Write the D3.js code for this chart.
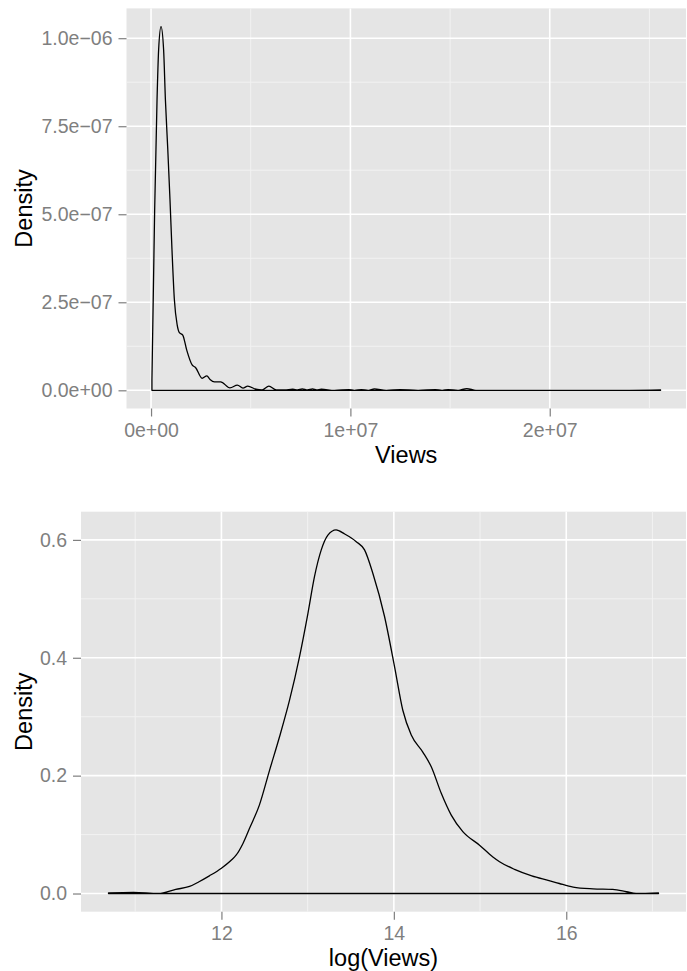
<!DOCTYPE html>
<html>
<head>
<meta charset="utf-8">
<script src="https://cdn.jsdelivr.net/npm/d3@7.9.0/dist/d3.min.js"></script>
<style>
  body { margin: 0; background: #fff; }
  svg { display: block; font-family: "Liberation Sans", Arial, Helvetica, sans-serif; }
</style>
</head>
<body>
<svg id="chart" width="687" height="971"></svg>
<script>
// top panel: density of raw views (views in millions, density in 1e-7)
const viewsM = [0.044, 0.18, 0.30, 0.38, 0.50, 0.63, 0.72, 0.84, 0.95, 1.05,
  1.17, 1.31, 1.42, 1.59, 1.79, 2.06, 2.23, 2.56, 2.80, 2.96,
  3.18, 3.49, 3.96, 4.33, 4.61, 4.85, 5.26, 5.57, 5.91, 6.28,
  6.7, 7.11, 7.35, 7.58, 7.85, 8.1, 8.3, 8.54, 9.2, 9.93,
  10.2, 10.55, 10.9, 11.2, 11.8, 12.5, 13.4, 14.26, 14.6, 14.9,
  15.4, 15.84, 16.3, 18, 20, 22, 24, 25.56];
const viewsDensE7 = [0.3, 5.1, 8.25, 9.67, 10.33, 9.67, 8.25, 6.83, 5.41, 3.99,
  2.57, 1.86, 1.64, 1.57, 1.14, 0.72, 0.65, 0.34, 0.41, 0.31,
  0.24, 0.24, 0.07, 0.15, 0.06, 0.12, 0.03, 0.01, 0.12, 0.01,
  0.01, 0.03, 0.01, 0.04, 0.01, 0.04, 0.01, 0.03, 0.0, 0.02,
  0.0, 0.02, 0.0, 0.04, 0.0, 0.02, 0.0, 0.02, 0.0, 0.02,
  0.0, 0.05, 0.0, 0.0, 0.0, 0.0, 0.0, 0.01];
const viewsTicks = [0, 1e7, 2e7];
const viewsTickLabels = ["0e+00", "1e+07", "2e+07"];
const viewsMinor = [5e6, 1.5e7, 2.5e7];
const densTicks = [0, 2.5e-7, 5e-7, 7.5e-7, 1e-6];
const densTickLabels = ["0.0e+00", "2.5e\u221207", "5.0e\u221207", "7.5e\u221207", "1.0e\u221206"];
const densMinor = [1.25e-7, 3.75e-7, 6.25e-7, 8.75e-7];

// bottom panel: density of log(views)
const logViews = [10.69, 10.98, 11.27, 11.47, 11.63, 11.74, 11.86, 12.0, 12.11, 12.17,
  12.25, 12.33, 12.44, 12.558, 12.674, 12.79, 12.906, 13.003, 13.08, 13.158,
  13.235, 13.33, 13.43, 13.564, 13.66, 13.757, 13.892, 14.008, 14.104, 14.202,
  14.336, 14.434, 14.55, 14.666, 14.80, 14.994, 15.149, 15.226, 15.4, 15.6,
  15.8, 15.92, 16.08, 16.31, 16.54, 16.70, 16.81, 17.07];
const logDens = [0.001, 0.002, 0.0, 0.007, 0.012, 0.020, 0.030, 0.043, 0.056, 0.065,
  0.085, 0.112, 0.150, 0.209, 0.266, 0.328, 0.402, 0.475, 0.538, 0.583,
  0.608, 0.617, 0.610, 0.597, 0.583, 0.543, 0.470, 0.385, 0.311, 0.269,
  0.240, 0.215, 0.170, 0.133, 0.105, 0.082, 0.062, 0.054, 0.041, 0.030,
  0.022, 0.017, 0.011, 0.008, 0.007, 0.003, 0.0, 0.001];
const logTicks = [12, 14, 16];
const logMinor = [11, 13, 15, 17];
const logDensTicks = [0, 0.2, 0.4, 0.6];
const logDensMinor = [0.1, 0.3, 0.5];

const svg = d3.select("#chart");

// ggplot-like 5% expansion
function expand(ext) {
  const pad = (ext[1] - ext[0]) * 0.05;
  return [ext[0] - pad, ext[1] + pad];
}

function drawPanel(opt) {
  const pts = opt.xs.map((x, i) => ({ x: x, y: opt.ys[i] }));
  const x = d3.scaleLinear()
    .domain(expand(d3.extent(pts, d => d.x)))
    .range([opt.left, opt.right]);
  const y = d3.scaleLinear()
    .domain(expand([0, d3.max(pts, d => d.y)]))
    .range([opt.bottom, opt.top]);

  const g = svg.append("g");

  g.append("rect")
    .attr("x", opt.left).attr("y", opt.top)
    .attr("width", opt.right - opt.left).attr("height", opt.bottom - opt.top)
    .attr("fill", "#e5e5e5");

  // minor grid
  g.selectAll(".minx").data(opt.xMinor.filter(v => x(v) >= opt.left && x(v) <= opt.right))
    .enter().append("line")
    .attr("x1", d => x(d)).attr("x2", d => x(d))
    .attr("y1", opt.top).attr("y2", opt.bottom)
    .attr("stroke", "#f2f2f2").attr("stroke-width", 1);
  g.selectAll(".miny").data(opt.yMinor)
    .enter().append("line")
    .attr("y1", d => y(d)).attr("y2", d => y(d))
    .attr("x1", opt.left).attr("x2", opt.right)
    .attr("stroke", "#f2f2f2").attr("stroke-width", 1);

  // major grid
  g.selectAll(".majx").data(opt.xTicks)
    .enter().append("line")
    .attr("x1", d => x(d)).attr("x2", d => x(d))
    .attr("y1", opt.top).attr("y2", opt.bottom)
    .attr("stroke", "#ffffff").attr("stroke-width", 1.6);
  g.selectAll(".majy").data(opt.yTicks)
    .enter().append("line")
    .attr("y1", d => y(d)).attr("y2", d => y(d))
    .attr("x1", opt.left).attr("x2", opt.right)
    .attr("stroke", "#ffffff").attr("stroke-width", 1.6);

  // density outline (closed polygon like geom_density)
  const area = d3.area()
    .x(d => x(d.x))
    .y0(y(0))
    .y1(d => y(d.y))
    .curve(d3.curveMonotoneX);
  g.append("path")
    .attr("d", area(pts))
    .attr("fill", "none")
    .attr("stroke", "#000")
    .attr("stroke-width", 1.3)
    .attr("stroke-linejoin", "round");

  // axes
  const xAxis = g.append("g")
    .attr("transform", `translate(0,${opt.bottom})`)
    .call(d3.axisBottom(x).tickValues(opt.xTicks).tickSize(8).tickPadding(5)
      .tickFormat((d, i) => opt.xLabels[i]));
  const yAxis = g.append("g")
    .attr("transform", `translate(${opt.left},0)`)
    .call(d3.axisLeft(y).tickValues(opt.yTicks).tickSize(8).tickPadding(6)
      .tickFormat((d, i) => opt.yLabels[i]));
  [xAxis, yAxis].forEach(a => {
    a.select(".domain").remove();
    a.selectAll(".tick line").attr("stroke", "#7f7f7f").attr("stroke-width", 1.2);
    a.selectAll(".tick text").attr("fill", "#7f7f7f").style("font-size", "19.5px");
  });
  xAxis.selectAll(".tick text").attr("dy", "0").attr("y", 28.5);

  g.append("text")
    .attr("x", (opt.left + opt.right) / 2)
    .attr("y", opt.bottom + 54)
    .attr("text-anchor", "middle")
    .style("font-size", "23.5px")
    .text(opt.xTitle);
  g.append("text")
    .attr("transform", `translate(32,${(opt.top + opt.bottom) / 2}) rotate(-90)`)
    .attr("text-anchor", "middle")
    .style("font-size", "23.5px")
    .text("Density");
}

drawPanel({
  xs: viewsM.map(v => v * 1e6), ys: viewsDensE7.map(v => v * 1e-7),
  left: 126.5, right: 686, top: 8.4, bottom: 408.5,
  xTicks: viewsTicks, xLabels: viewsTickLabels, xMinor: viewsMinor,
  yTicks: densTicks, yLabels: densTickLabels, yMinor: densMinor,
  xTitle: "Views"
});

drawPanel({
  xs: logViews, ys: logDens,
  left: 81, right: 686, top: 511.7, bottom: 911.7,
  xTicks: logTicks, xLabels: logTicks.map(String), xMinor: logMinor,
  yTicks: logDensTicks, yLabels: logDensTicks.map(d => d.toFixed(1)), yMinor: logDensMinor,
  xTitle: "log(Views)"
});
</script>
</body>
</html>
